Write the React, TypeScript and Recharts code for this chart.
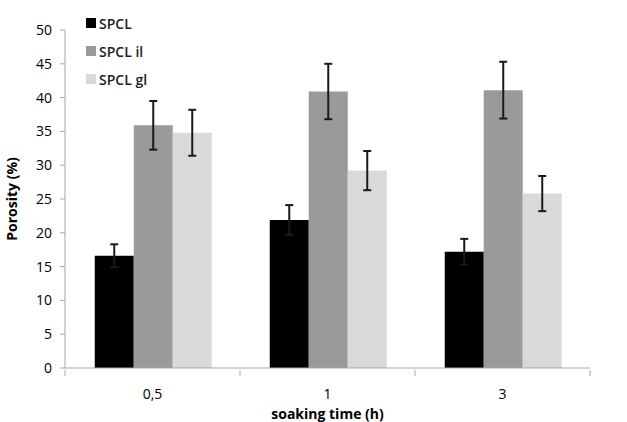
import React from 'react';
import { BarChart, Bar, XAxis, YAxis, ErrorBar } from 'recharts';

const categories = ['0,5', '1', '3'];
const spcl = [16.6, 21.9, 17.2];
const spclErr = [1.7, 2.2, 1.9];
const spclIl = [35.9, 40.9, 41.1];
const spclIlErr = [3.6, 4.1, 4.2];
const spclGl = [34.8, 29.2, 25.8];
const spclGlErr = [3.4, 2.9, 2.6];
const yTicks = [0, 5, 10, 15, 20, 25, 30, 35, 40, 45, 50];

const series = [
  { key: 'spcl', name: 'SPCL', color: '#000000' },
  { key: 'il', name: 'SPCL il', color: '#9a9a9a' },
  { key: 'gl', name: 'SPCL gl', color: '#d9d9d9' },
];

const data = categories.map((c, i) => ({
  name: c,
  spcl: spcl[i],
  spclErr: spclErr[i],
  il: spclIl[i],
  ilErr: spclIlErr[i],
  gl: spclGl[i],
  glErr: spclGlErr[i],
}));

const font = '"Open Sans", sans-serif';
const axisColor = '#a6a6a6';
const bandWidth = (627 - 65 - 37) / categories.length;

const XTick = (props: any) => {
  const { x, y, payload, index } = props;
  return (
    <g>
      <line x1={x - bandWidth / 2} x2={x - bandWidth / 2} y1={y} y2={y + 6} stroke={axisColor} />
      {index === categories.length - 1 && (
        <line x1={x + bandWidth / 2} x2={x + bandWidth / 2} y1={y} y2={y + 6} stroke={axisColor} />
      )}
      <text x={x} y={y + 29} textAnchor="middle" fontSize={14} fill="#000" fontFamily={font}>
        {payload.value}
      </text>
    </g>
  );
};

// legend drawn as an overlay so it doesn't shrink the plot area
const LegendBox = () => (
  <div
    style={{
      position: 'absolute',
      left: 86,
      top: 9,
      fontFamily: font,
      fontSize: 14,
      fontWeight: 600,
      color: '#222',
    }}
  >
    {series.map((s) => (
      <div key={s.key} style={{ display: 'flex', alignItems: 'center', height: 28 }}>
        <span style={{ width: 10, height: 10, background: s.color, marginRight: 3, display: 'inline-block' }} />
        <span>{s.name}</span>
      </div>
    ))}
  </div>
);

export default function App() {
  return (
    <div style={{ position: 'absolute', left: 0, top: 0, width: 627, height: 422, background: '#fff' }}>
      <BarChart
        width={627}
        height={422}
        data={data}
        margin={{ top: 30, right: 37, left: 0, bottom: 0 }}
        barCategoryGap="17%"
        barGap={0}
      >
        <XAxis
          dataKey="name"
          height={54}
          stroke={axisColor}
          tickLine={false}
          tickSize={0}
          tick={<XTick />}
          label={{
            value: 'soaking time (h)',
            position: 'insideBottom',
            offset: 3,
            style: { fontFamily: font, fontSize: 14, fontWeight: 'bold', fill: '#000' },
          }}
        />
        <YAxis
          width={65}
          domain={[0, 50]}
          ticks={yTicks}
          interval={0}
          stroke={axisColor}
          tickSize={5}
          tickMargin={8}
          tick={{ fontFamily: font, fontSize: 14, fill: '#000' }}
          label={{
            value: 'Porosity (%)',
            angle: -90,
            position: 'insideLeft',
            offset: 12,
            style: { fontFamily: font, fontSize: 14, fontWeight: 'bold', fill: '#000', textAnchor: 'middle' },
          }}
        />
        <Bar dataKey="spcl" name="SPCL" fill="#000000" isAnimationActive={false}>
          <ErrorBar dataKey="spclErr" stroke="#1a1a1a" strokeWidth={2} width={4} />
        </Bar>
        <Bar dataKey="il" name="SPCL il" fill="#9a9a9a" isAnimationActive={false}>
          <ErrorBar dataKey="ilErr" stroke="#1a1a1a" strokeWidth={2} width={4} />
        </Bar>
        <Bar dataKey="gl" name="SPCL gl" fill="#d9d9d9" isAnimationActive={false}>
          <ErrorBar dataKey="glErr" stroke="#1a1a1a" strokeWidth={2} width={4} />
        </Bar>
      </BarChart>
      <LegendBox />
    </div>
  );
}
